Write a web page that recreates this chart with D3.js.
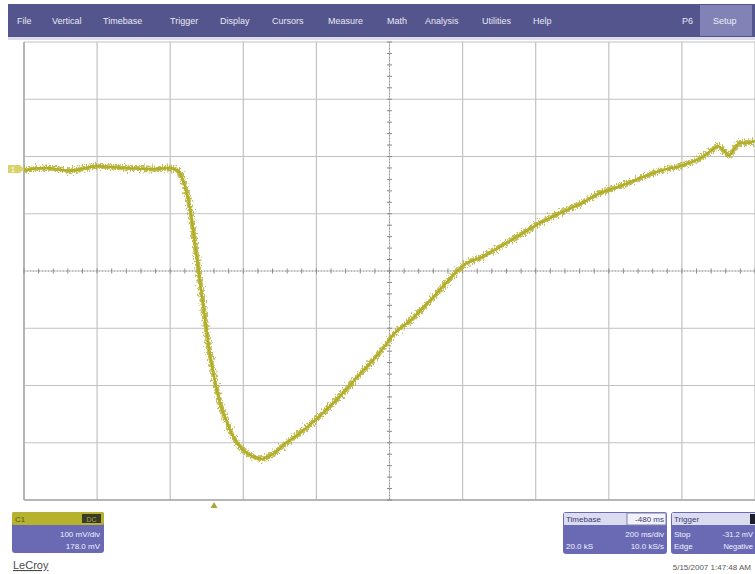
<!DOCTYPE html>
<html>
<head>
<meta charset="utf-8">
<script src="https://cdn.jsdelivr.net/npm/d3@7"></script>
<style>
  body { margin: 0; background: #fff; }
  svg { display: block; font-family: "Liberation Sans", Arial, sans-serif; }
</style>
</head>
<body>
<div id="chart"></div>
<script>
// trace: time (ms, trigger = 0) and C1 voltage (mV)
const timeMs = [-520, -462, -394, -320, -244, -175, -120, -99, -85, -66, -47, -30, -11, 11, 38, 71, 104, 131, 158, 194,
  235, 290, 345, 399, 454, 495, 536, 577, 618, 659, 687, 728, 782, 837, 892, 946, 1001, 1056, 1111, 1165,
  1220, 1283, 1330, 1362, 1379, 1395, 1409, 1423, 1439, 1461, 1480];
const voltMv = [-2, 2, -3, 5, 2, 0, 2, -3, -19, -68, -155, -237, -325, -395, -447, -485, -501, -506, -499, -480,
  -461, -431, -396, -358, -320, -286, -265, -239, -211, -182, -166, -155, -136, -115, -94, -77, -61, -42, -30, -16,
  -3, 7, 19, 33, 40, 32, 24, 35, 46, 46, 49];

const menuItems = ["File", "Vertical", "Timebase", "Trigger", "Display", "Cursors", "Measure", "Math", "Analysis", "Utilities", "Help"];
const menuX = [17, 52, 103, 170, 220, 272, 328, 387, 425, 482, 533];

const timebase = {delay: "-480 ms", perDiv: "200 ms/div", samples: "20.0 kS", rate: "10.0 kS/s"};
const channel = {name: "C1", coupling: "DC", perDiv: "100 mV/div", offset: "178.0 mV"};
const trigger = {mode: "Stop", level: "-31.2 mV", type: "Edge", slope: "Negative"};
const stamp = "5/15/2007 1:47:48 AM";

const width = 755, height = 574;
const plot = {left: 24, right: 755, top: 42, bottom: 500};
const msPerDiv = 200, mvPerDiv = 100;
const traceColor = "#b3ae2a";

const svg = d3.select("#chart").append("svg")
  .attr("width", width).attr("height", height);

const x = d3.scaleLinear().domain([-520, 1480]).range([plot.left, plot.right]);
const y = d3.scaleLinear().domain([-578, 222]).range([plot.bottom, plot.top]);

// noise look for the trace
const defs = svg.append("defs");
const filt = defs.append("filter").attr("id", "noise")
  .attr("x", "-5%").attr("y", "-5%").attr("width", "110%").attr("height", "110%");
filt.append("feTurbulence").attr("type", "fractalNoise")
  .attr("baseFrequency", "0.9 0.4").attr("numOctaves", 2).attr("seed", 3).attr("result", "t");
filt.append("feDisplacementMap").attr("in", "SourceGraphic").attr("in2", "t")
  .attr("scale", 10).attr("xChannelSelector", "R").attr("yChannelSelector", "G");

// menu bar
svg.append("rect").attr("x", 8).attr("y", 4).attr("width", width - 8).attr("height", 33).attr("fill", "#55558e");
svg.append("rect").attr("x", 8).attr("y", 37).attr("width", width - 8).attr("height", 3).attr("fill", "#dcdcea");
svg.append("rect").attr("x", 700).attr("y", 5).attr("width", 52).attr("height", 31).attr("fill", "#8282b6");
svg.append("g").selectAll("text").data(menuItems).enter().append("text")
  .attr("x", (d, i) => menuX[i]).attr("y", 24)
  .attr("fill", "#e8e8f4").attr("font-size", "9px")
  .text(d => d);
svg.append("text").attr("x", 682).attr("y", 24).attr("fill", "#e8e8f4").attr("font-size", "9px").text("P6");
svg.append("text").attr("x", 713).attr("y", 24).attr("fill", "#eeeef8").attr("font-size", "9px").text("Setup");

// grid
const xDivs = d3.range(x.domain()[0], x.domain()[1] + 1, msPerDiv);
const yDivs = d3.range(y.domain()[0], y.domain()[1] + 1, mvPerDiv);
const grid = svg.append("g");
grid.selectAll(".vx").data(xDivs).enter().append("line")
  .attr("x1", d => x(d)).attr("x2", d => x(d))
  .attr("y1", plot.top).attr("y2", plot.bottom)
  .attr("stroke", "#c2c2c2").attr("stroke-width", 1.2);
grid.selectAll(".hy").data(yDivs).enter().append("line")
  .attr("y1", d => y(d)).attr("y2", d => y(d))
  .attr("x1", plot.left).attr("x2", plot.right)
  .attr("stroke", "#c2c2c2").attr("stroke-width", 1.2);

// frame
grid.append("line").attr("x1", plot.left).attr("x2", plot.left).attr("y1", plot.top).attr("y2", plot.bottom)
  .attr("stroke", "#a8a8a8").attr("stroke-width", 1.5);
grid.append("line").attr("x1", plot.left).attr("x2", plot.right).attr("y1", plot.bottom).attr("y2", plot.bottom)
  .attr("stroke", "#a8a8a8").attr("stroke-width", 1.5);

// centre crosshair with minor ticks
const cx = x(x.domain()[0] + 5 * msPerDiv), cy = y(y.domain()[0] + 4 * mvPerDiv);
const minorX = d3.range(x.domain()[0], x.domain()[1] + 1, msPerDiv / 5);
const minorY = d3.range(y.domain()[0], y.domain()[1] + 1, mvPerDiv / 5);
grid.append("line").attr("x1", cx).attr("x2", cx).attr("y1", plot.top).attr("y2", plot.bottom)
  .attr("stroke", "#9a9a9a").attr("stroke-dasharray", "1,2");
grid.append("line").attr("x1", plot.left).attr("x2", plot.right).attr("y1", cy).attr("y2", cy)
  .attr("stroke", "#9a9a9a").attr("stroke-dasharray", "1,2");
grid.selectAll(".mx").data(minorX).enter().append("line")
  .attr("x1", d => x(d)).attr("x2", d => x(d)).attr("y1", cy - 2.5).attr("y2", cy + 2.5)
  .attr("stroke", "#8a8a8a");
grid.selectAll(".my").data(minorY).enter().append("line")
  .attr("y1", d => y(d)).attr("y2", d => y(d)).attr("x1", cx - 2.5).attr("x2", cx + 2.5)
  .attr("stroke", "#8a8a8a");

// trace
const pts = timeMs.map((t, i) => [t, voltMv[i]]);
const line = d3.line().x(d => x(d[0])).y(d => y(d[1])).curve(d3.curveMonotoneX);
const clip = defs.append("clipPath").attr("id", "plotclip");
clip.append("rect").attr("x", plot.left).attr("y", plot.top).attr("width", plot.right - plot.left).attr("height", plot.bottom - plot.top);
const tr = svg.append("g").attr("clip-path", "url(#plotclip)");
tr.append("path").datum(pts).attr("d", line)
  .attr("fill", "none").attr("stroke", traceColor).attr("stroke-width", 5)
  .attr("stroke-opacity", 0.8).attr("filter", "url(#noise)");
tr.append("path").datum(pts).attr("d", line)
  .attr("fill", "none").attr("stroke", traceColor).attr("stroke-width", 2.4);

// channel ground marker
const g0 = y(0);
svg.append("path").attr("d", `M8,${g0 - 4}H20L24,${g0}L20,${g0 + 4}H8Z`).attr("fill", "#d8d46a");
svg.append("text").attr("x", 11).attr("y", g0 + 3).attr("font-size", "7px").attr("fill", "#fff").text("1");

// trigger position marker
svg.append("path").attr("d", `M${x(0)},${plot.bottom + 2}l3.5,6h-7Z`).attr("fill", "#a9a640");

// channel box
const cb = svg.append("g").attr("transform", "translate(12,512)");
cb.append("rect").attr("width", 92).attr("height", 41).attr("rx", 3).attr("fill", "#6a6ab4");
cb.append("rect").attr("width", 92).attr("height", 13).attr("rx", 2).attr("fill", "#b6b22e");
cb.append("rect").attr("x", 70).attr("y", 2).attr("width", 19).attr("height", 9).attr("fill", "#3a3a28");
cb.append("text").attr("x", 3).attr("y", 10).attr("font-size", "8px").attr("fill", "#5a5a10").text(channel.name);
cb.append("text").attr("x", 79.5).attr("y", 9.5).attr("font-size", "7px").attr("text-anchor", "middle").attr("fill", "#a8a850").text(channel.coupling);
cb.append("text").attr("x", 88).attr("y", 25).attr("font-size", "8px").attr("text-anchor", "end").attr("fill", "#f0f0ff").text(channel.perDiv);
cb.append("text").attr("x", 88).attr("y", 37).attr("font-size", "8px").attr("text-anchor", "end").attr("fill", "#f0f0ff").text(channel.offset);

svg.append("text").attr("x", 13).attr("y", 569).attr("font-size", "11px").attr("fill", "#4a4a4a")
  .attr("text-decoration", "underline").text("LeCroy");

// timebase box
const tb = svg.append("g").attr("transform", "translate(563,512)");
tb.append("rect").attr("width", 104).attr("height", 42).attr("rx", 3).attr("fill", "#6a6ab4");
tb.append("rect").attr("x", 1).attr("y", 1).attr("width", 102).attr("height", 12).attr("fill", "#dcdcf0");
tb.append("rect").attr("x", 64).attr("y", 1).attr("width", 39).attr("height", 12).attr("fill", "#f2f2fa").attr("stroke", "#8080b0");
tb.append("text").attr("x", 3).attr("y", 10).attr("font-size", "8px").attr("fill", "#3a3a70").text("Timebase");
tb.append("text").attr("x", 101).attr("y", 10).attr("font-size", "8px").attr("text-anchor", "end").attr("fill", "#3a3a70").text(timebase.delay);
tb.append("text").attr("x", 101).attr("y", 25).attr("font-size", "8px").attr("text-anchor", "end").attr("fill", "#f0f0ff").text(timebase.perDiv);
tb.append("text").attr("x", 3).attr("y", 37).attr("font-size", "8px").attr("fill", "#f0f0ff").text(timebase.samples);
tb.append("text").attr("x", 101).attr("y", 37).attr("font-size", "8px").attr("text-anchor", "end").attr("fill", "#f0f0ff").text(timebase.rate);

// trigger box (runs off the right edge of the screen)
const tg = svg.append("g").attr("transform", "translate(671,512)");
tg.append("rect").attr("width", 100).attr("height", 42).attr("rx", 3).attr("fill", "#6a6ab4");
tg.append("rect").attr("x", 1).attr("y", 1).attr("width", 98).attr("height", 12).attr("fill", "#dcdcf0");
tg.append("rect").attr("x", 79).attr("y", 2).attr("width", 10).attr("height", 10).attr("fill", "#1e1e2a");
tg.append("text").attr("x", 3).attr("y", 10).attr("font-size", "8px").attr("fill", "#3a3a70").text("Trigger");
tg.append("text").attr("x", 3).attr("y", 25).attr("font-size", "8px").attr("fill", "#f0f0ff").text(trigger.mode);
tg.append("text").attr("x", 82).attr("y", 25).attr("font-size", "7.5px").attr("text-anchor", "end").attr("fill", "#f0f0ff").text(trigger.level);
tg.append("text").attr("x", 82).attr("y", 37).attr("font-size", "7.5px").attr("text-anchor", "end").attr("fill", "#f0f0ff").text(trigger.slope);
tg.append("text").attr("x", 3).attr("y", 37).attr("font-size", "8px").attr("fill", "#f0f0ff").text(trigger.type);

svg.append("text").attr("x", 751).attr("y", 570).attr("font-size", "8px").attr("text-anchor", "end")
  .attr("fill", "#555").text(stamp);
</script>
</body>
</html>
